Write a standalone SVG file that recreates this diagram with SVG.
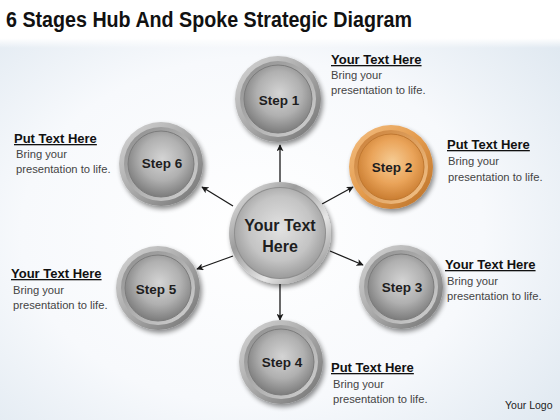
<svg xmlns="http://www.w3.org/2000/svg" width="560" height="420" viewBox="0 0 560 420">
<defs>
  <radialGradient id="bgG" cx="45%" cy="55%" r="75%">
    <stop offset="0" stop-color="#ffffff"/>
    <stop offset="0.55" stop-color="#f7f9fc"/>
    <stop offset="1" stop-color="#dce6ef"/>
  </radialGradient>
  <linearGradient id="topG" x1="0" y1="0" x2="0" y2="1">
    <stop offset="0" stop-color="#ffffff"/>
    <stop offset="0.8" stop-color="#ffffff"/>
    <stop offset="1" stop-color="#ffffff" stop-opacity="0"/>
  </linearGradient>
  <linearGradient id="rimG" x1="0" y1="0" x2="1" y2="1">
    <stop offset="0" stop-color="#d8d8d8"/>
    <stop offset="0.5" stop-color="#a8a8a8"/>
    <stop offset="1" stop-color="#707070"/>
  </linearGradient>
  <linearGradient id="rimG2" x1="0" y1="0" x2="1" y2="1">
    <stop offset="0" stop-color="#8c8c8c"/>
    <stop offset="1" stop-color="#d2d2d2"/>
  </linearGradient>
  <radialGradient id="sphG" cx="52%" cy="42%" r="60%">
    <stop offset="0" stop-color="#d4d4d4"/>
    <stop offset="0.55" stop-color="#b0b0b0"/>
    <stop offset="1" stop-color="#787878"/>
  </radialGradient>
  <linearGradient id="rimO" x1="0" y1="0" x2="1" y2="1">
    <stop offset="0" stop-color="#f4c084"/>
    <stop offset="0.5" stop-color="#e39a4c"/>
    <stop offset="1" stop-color="#b86e26"/>
  </linearGradient>
  <linearGradient id="rimO2" x1="0" y1="0" x2="1" y2="1">
    <stop offset="0" stop-color="#c97e36"/>
    <stop offset="1" stop-color="#f4c58c"/>
  </linearGradient>
  <radialGradient id="sphO" cx="52%" cy="42%" r="60%">
    <stop offset="0" stop-color="#f6cc94"/>
    <stop offset="0.55" stop-color="#eaa45a"/>
    <stop offset="1" stop-color="#c77a2e"/>
  </radialGradient>
  <linearGradient id="hubRim" x1="0" y1="0" x2="1" y2="1">
    <stop offset="0" stop-color="#f2f2f2"/>
    <stop offset="0.35" stop-color="#9c9c9c"/>
    <stop offset="0.65" stop-color="#e6e6e6"/>
    <stop offset="1" stop-color="#7a7a7a"/>
  </linearGradient>
  <radialGradient id="hubSph" cx="50%" cy="45%" r="55%">
    <stop offset="0" stop-color="#e2e2e2"/>
    <stop offset="0.65" stop-color="#c4c4c4"/>
    <stop offset="1" stop-color="#9c9c9c"/>
  </radialGradient>
  <filter id="sh" x="-30%" y="-30%" width="160%" height="160%">
    <feGaussianBlur in="SourceAlpha" stdDeviation="2.5"/>
    <feOffset dx="2" dy="3" result="b"/>
    <feComponentTransfer><feFuncA type="linear" slope="0.45"/></feComponentTransfer>
    <feMerge><feMergeNode/><feMergeNode in="SourceGraphic"/></feMerge>
  </filter>
  <marker id="ah" viewBox="0 0 10 10" refX="9" refY="5" markerWidth="7" markerHeight="7" orient="auto" markerUnits="userSpaceOnUse">
    <path d="M0,0 L10,5 L0,10 L2.5,5 Z" fill="#1a1a1a"/>
  </marker>
</defs>
<style>
  .title{font-family:"Liberation Sans",Arial,sans-serif;font-weight:bold;font-size:22px;fill:#111;}
  .step{font-family:"Liberation Sans",Arial,sans-serif;font-weight:bold;font-size:13.5px;fill:#1e1e1e;text-anchor:middle;}
  .hub{font-family:"Liberation Sans",Arial,sans-serif;font-weight:bold;font-size:16px;fill:#1e1e1e;text-anchor:middle;}
  .hd{font-family:"Liberation Sans",Arial,sans-serif;font-weight:bold;font-size:13px;fill:#111;text-decoration:underline;}
  .bd{font-family:"Liberation Sans",Arial,sans-serif;font-size:11.2px;fill:#444;}
  .logo{font-family:"Liberation Sans",Arial,sans-serif;font-size:10.5px;fill:#222;}
  .cn{stroke:#1a1a1a;stroke-width:1.3;fill:none;marker-end:url(#ah);}
</style>

<rect x="0" y="0" width="560" height="420" fill="url(#bgG)"/>
<rect x="0" y="0" width="560" height="48" fill="url(#topG)"/>
<text class="title" x="6" y="27" textLength="406" lengthAdjust="spacingAndGlyphs">6 Stages Hub And Spoke Strategic Diagram</text>

<g id="connectors">
  <line class="cn" x1="280" y1="182" x2="280" y2="145"/>
  <line class="cn" x1="322" y1="204" x2="353" y2="187"/>
  <line class="cn" x1="330" y1="251" x2="363" y2="265"/>
  <line class="cn" x1="280" y1="284" x2="280" y2="320"/>
  <line class="cn" x1="233" y1="256" x2="197" y2="269"/>
  <line class="cn" x1="233" y1="206" x2="202" y2="187"/>
</g>

<g id="hub">
  <g transform="translate(280,233)" filter="url(#sh)">
    <circle r="51" fill="url(#hubRim)"/>
    <circle r="46" fill="#8e8e8e"/>
    <circle r="45" fill="url(#hubSph)"/>
  </g>
  <text class="hub" x="280" y="231">Your Text</text>
  <text class="hub" x="280" y="252">Here</text>
</g>

<g id="step1">
  <g transform="translate(278,99)" filter="url(#sh)">
    <circle r="43" fill="url(#rimG)"/>
    <circle r="38" fill="url(#rimG2)"/>
    <circle r="34" fill="url(#sphG)" stroke="#7c7c7c" stroke-width="1"/>
  </g>
  <text class="step" x="279" y="105">Step 1</text>
  <text class="hd" x="331" y="64">Your Text Here</text>
  <text class="bd" x="331" y="79">Bring your</text>
  <text class="bd" x="331" y="94">presentation to life.</text>
</g>

<g id="step2">
  <g transform="translate(391,167)" filter="url(#sh)">
    <circle r="42" fill="url(#rimO)"/>
    <circle r="37" fill="url(#rimO2)"/>
    <circle r="33" fill="url(#sphO)" stroke="#c07830" stroke-width="1"/>
  </g>
  <text class="step" x="392" y="172">Step 2</text>
  <text class="hd" x="447" y="149">Put Text Here</text>
  <text class="bd" x="448" y="165">Bring your</text>
  <text class="bd" x="448" y="181">presentation to life.</text>
</g>

<g id="step3">
  <g transform="translate(401,287)" filter="url(#sh)">
    <circle r="42" fill="url(#rimG)"/>
    <circle r="37" fill="url(#rimG2)"/>
    <circle r="33" fill="url(#sphG)" stroke="#7c7c7c" stroke-width="1"/>
  </g>
  <text class="step" x="402" y="292">Step 3</text>
  <text class="hd" x="445" y="269">Your Text Here</text>
  <text class="bd" x="447" y="285">Bring your</text>
  <text class="bd" x="447" y="300">presentation to life.</text>
</g>

<g id="step4">
  <g transform="translate(281,362)" filter="url(#sh)">
    <circle r="42" fill="url(#rimG)"/>
    <circle r="37" fill="url(#rimG2)"/>
    <circle r="33" fill="url(#sphG)" stroke="#7c7c7c" stroke-width="1"/>
  </g>
  <text class="step" x="282" y="367">Step 4</text>
  <text class="hd" x="331" y="372">Put Text Here</text>
  <text class="bd" x="333" y="388">Bring your</text>
  <text class="bd" x="333" y="403">presentation to life.</text>
</g>

<g id="step5">
  <g transform="translate(158,288)" filter="url(#sh)">
    <circle r="42" fill="url(#rimG)"/>
    <circle r="37" fill="url(#rimG2)"/>
    <circle r="33" fill="url(#sphG)" stroke="#7c7c7c" stroke-width="1"/>
  </g>
  <text class="step" x="156" y="294">Step 5</text>
  <text class="hd" x="11" y="278">Your Text Here</text>
  <text class="bd" x="13" y="294">Bring your</text>
  <text class="bd" x="13" y="309">presentation to life.</text>
</g>

<g id="step6">
  <g transform="translate(161,164)" filter="url(#sh)">
    <circle r="42" fill="url(#rimG)"/>
    <circle r="37" fill="url(#rimG2)"/>
    <circle r="33" fill="url(#sphG)" stroke="#7c7c7c" stroke-width="1"/>
  </g>
  <text class="step" x="162" y="168">Step 6</text>
  <text class="hd" x="14" y="143">Put Text Here</text>
  <text class="bd" x="16" y="158">Bring your</text>
  <text class="bd" x="16" y="173">presentation to life.</text>
</g>

<text class="logo" x="505" y="409">Your Logo</text>
</svg>
